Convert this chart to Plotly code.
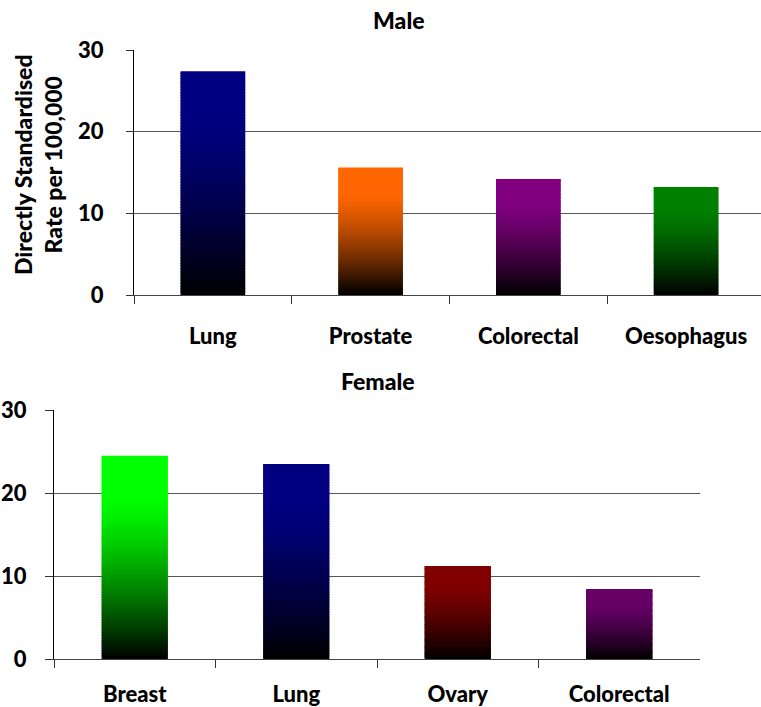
import plotly.graph_objects as go

# Directly standardised rates per 100,000
male_sites = ["Lung", "Prostate", "Colorectal", "Oesophagus"]
male_rates = [27.4, 15.6, 14.2, 13.2]
male_colors = ["#000080", "#FF6600", "#800080", "#008000"]

female_sites = ["Breast", "Lung", "Ovary", "Colorectal"]
female_rates = [24.5, 23.5, 11.2, 8.4]
female_colors = ["#00FF00", "#000080", "#800000", "#660066"]

y_ticks = [0, 10, 20, 30]

W, H = 761, 707
FONT = "Lato"
WEIGHT = 900
N_STEPS = 80       # slices used to build the vertical colour fade
SOLID_FROM = 0.8   # fraction of bar height above which the colour is full


def hex_to_rgb(h):
    h = h.lstrip("#")
    return tuple(int(h[i:i + 2], 16) for i in (0, 2, 4))


def shade(hex_color, t):
    """Colour at relative height t (0 = base, 1 = top): black easing into the fill."""
    u = min(1.0, t / SOLID_FROM)
    f = 1 - (1 - u) ** 1.3
    r, g, b = hex_to_rgb(hex_color)
    return f"rgb({round(r * f)},{round(g * f)},{round(b * f)})"


def add_gradient_bars(fig, sites, rates, colors, xa, ya):
    # Stacked thin slices, each slightly taller than its step so no seams show;
    # slices are drawn bottom-up so every one is overlapped by the next.
    for k in range(N_STEPS):
        lo = k / N_STEPS
        hi = min(1.0, (k + 1.6) / N_STEPS)
        mid = (k + 0.5) / N_STEPS
        fig.add_trace(go.Bar(
            x=sites,
            y=[v * (hi - lo) for v in rates],
            base=[v * lo for v in rates],
            width=0.41,
            marker=dict(color=[shade(c, mid) for c in colors], line=dict(width=0)),
            xaxis=xa, yaxis=ya,
            showlegend=False, hoverinfo="skip",
        ))


fig = go.Figure()
add_gradient_bars(fig, male_sites, male_rates, male_colors, "x", "y")
add_gradient_bars(fig, female_sites, female_rates, female_colors, "x2", "y2")

ytick_font = dict(family=FONT, size=22, color="black", weight=WEIGHT)
xtick_font = dict(family=FONT, size=22, color="black", weight=WEIGHT)

common_y = dict(
    range=[0, 30], tickvals=y_ticks, showgrid=True, gridcolor="#555555", gridwidth=1.3,
    zeroline=False, showline=True, linecolor="black", linewidth=1, automargin=False,
    ticks="outside", ticklen=7, tickcolor="#333333", tickfont=ytick_font, fixedrange=True,
)
common_x = dict(
    type="category", showgrid=False, zeroline=False, showline=True, automargin=False,
    linecolor="#444444", linewidth=1.3, ticks="outside", ticklen=8, tickcolor="#333333",
    tickson="boundaries", tickfont=xtick_font, fixedrange=True,
)

fig.update_layout(
    width=W, height=H,
    margin=dict(l=0, r=0, t=0, b=0),
    paper_bgcolor="white", plot_bgcolor="white",
    barmode="overlay",
    xaxis=dict(common_x, domain=[134 / W, 1.0], anchor="y",
               range=[-0.5, 3.475], ticklabelstandoff=21),
    yaxis=dict(common_y, domain=[(H - 295) / H, (H - 50) / H], anchor="x",
               ticklabelstandoff=18),
    xaxis2=dict(common_x, domain=[54 / W, 700 / W], anchor="y2",
                range=[-0.5, 3.5], ticklabelstandoff=15),
    yaxis2=dict(common_y, domain=[(H - 659) / H, (H - 410) / H], anchor="x2",
                ticklen=8, ticklabelstandoff=14),
)

title_font = dict(family=FONT, size=23, color="black", weight=WEIGHT)
fig.add_annotation(text="Male", x=399 / W, y=(H - 20) / H, xref="paper", yref="paper",
                   showarrow=False, font=title_font, xanchor="center", yanchor="middle")
fig.add_annotation(text="Female", x=378 / W, y=(H - 381) / H, xref="paper", yref="paper",
                   showarrow=False, font=title_font, xanchor="center", yanchor="middle")
fig.add_annotation(text="Directly Standardised<br>Rate per 100,000",
                   x=38 / W, y=(H - 165) / H, xref="paper", yref="paper",
                   showarrow=False, textangle=-90, align="center",
                   font=dict(family=FONT, size=23, color="black", weight=WEIGHT),
                   xanchor="center", yanchor="middle")

fig.write_html("out.html")
